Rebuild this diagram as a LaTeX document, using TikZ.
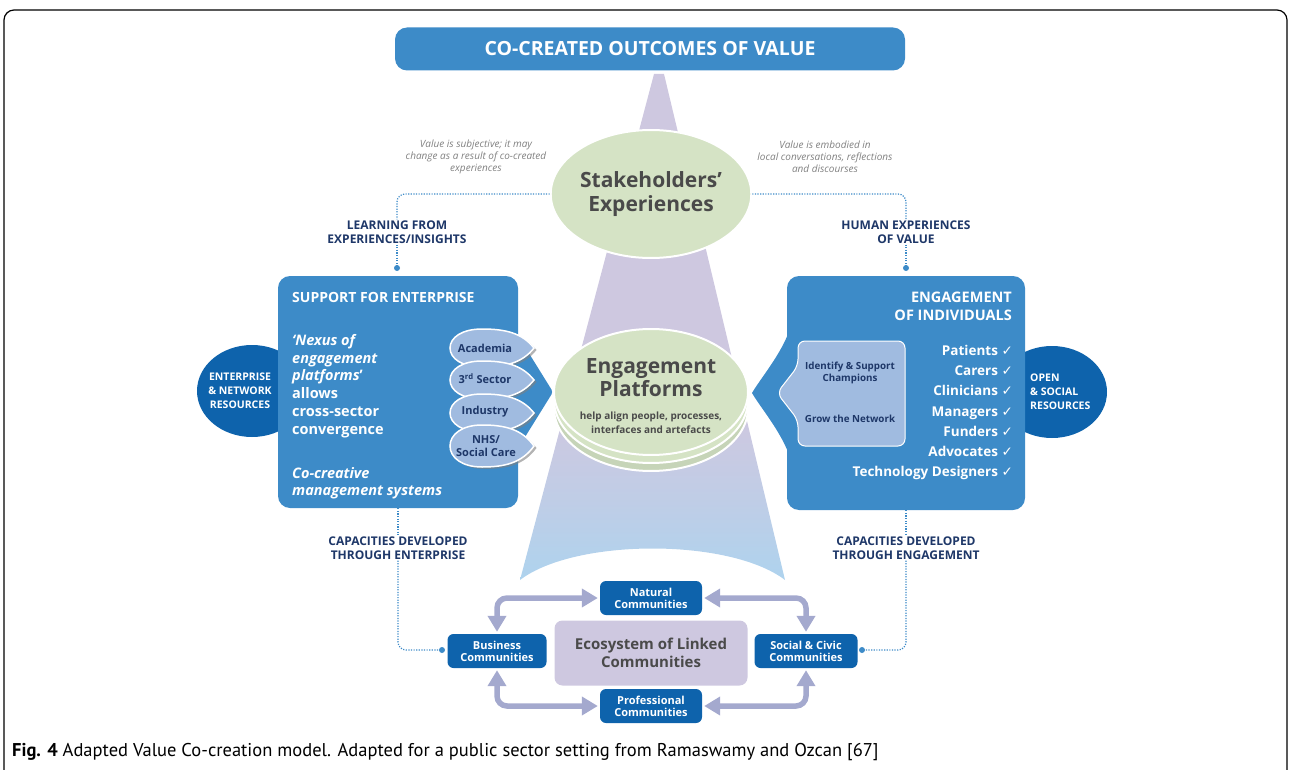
\documentclass[tikz,border=0pt]{standalone}
\usepackage{fontspec}
\setmainfont{Open Sans}
\newfontfamily\capfont{PT Sans}
\newfontfamily\tickfont{DejaVu Sans}
\usetikzlibrary{arrows.meta,shapes.geometric,shadows,positioning}

\definecolor{midblue}{HTML}{3D8BC8}
\definecolor{darkblue}{HTML}{0E63AC}
\definecolor{leafblue}{HTML}{A0BBE0}
\definecolor{navy}{HTML}{1E3768}
\definecolor{sage}{HTML}{D5E3C5}
\definecolor{sagedark}{HTML}{C6D4B8}
\definecolor{lilac}{HTML}{CEC8E0}
\definecolor{skyblue}{HTML}{AED3EE}
\definecolor{inkgray}{HTML}{4A4A4A}
\definecolor{arrowgray}{HTML}{A4A9CE}
\colorlet{conemix}{lilac!55!skyblue}

\pgfdeclareverticalshading{conefade}{100bp}{color(0bp)=(skyblue); color(25bp)=(skyblue);
  color(33bp)=(conemix); color(41bp)=(lilac); color(100bp)=(lilac)}

\newcommand{\fsz}[2]{\fontsize{#1}{#2}\selectfont}
\newcommand{\tick}{{\tickfont\mdseries ✓}}
% leaf: #1 centre y, #2 half height
\newcommand{\leafat}[2]{%
  \path[leafshape] (534,#1) .. controls (522,{#1-0.8*#2}) and (505,{#1-#2}) .. (482,{#1-#2})
    .. controls (462,{#1-#2}) and (450,{#1-0.55*#2}) .. (450,#1)
    .. controls (450,{#1+0.55*#2}) and (462,{#1+#2}) .. (482,{#1+#2})
    .. controls (505,{#1+#2}) and (522,{#1+0.8*#2}) .. (534,#1) -- cycle;}

\begin{document}
\begin{tikzpicture}[x=1pt,y=-1pt,
  mainbox/.style={fill=midblue, rounded corners=12pt, inner sep=0pt},
  resource/.style={ellipse, fill=darkblue, inner sep=0pt, minimum width=110pt, minimum height=92pt},
  reslabel/.style={text=white, font=\fsz{10.5}{14}\bfseries, inner sep=0pt},
  commbox/.style={fill=darkblue, rounded corners=6pt, minimum width=102pt, minimum height=34pt,
    text=white, font=\fsz{11}{12}\bfseries, align=center, inner sep=0pt},
  linklabel/.style={text=navy, font=\fsz{12}{14}\bfseries, align=center, inner sep=1pt},
  valuenote/.style={text=black!50, font=\fsz{10}{12}\itshape, align=center, inner sep=0pt},
  dotline/.style={midblue, line width=1.2pt, dash pattern=on 1.2pt off 1.4pt, rounded corners=8pt},
  leafshape/.style={fill=leafblue, draw=white, line width=1.5pt,
    drop shadow={shadow xshift=2.5pt, shadow yshift=-2pt, opacity=0.6}},
  leaftext/.style={text=navy, font=\fsz{11}{13}\bfseries, align=center, inner sep=0pt},
  linkarrow/.style={arrowgray, line width=5.5pt, rounded corners=10pt, shorten <=2pt, shorten >=2pt,
    {Triangle[width=18pt,length=16pt]}-{Triangle[width=18pt,length=16pt]}},
  platdisc/.style={ellipse, fill=sage, draw=white, line width=2pt, minimum width=194pt,
    minimum height=126pt, inner sep=0pt},
]
\useasboundingbox (0,0) rectangle (1290,770);
\draw[line width=1.2pt, rounded corners=10pt] (4,780) -- (4,10) -- (1287,10) -- (1287,780);

% cone behind everything
\shade[shading=conefade] (654,74) -- (664,74) -- (785,580)
  .. controls (730,538) and (575,538) .. (520,580) -- cycle;

% title
\node[mainbox, minimum width=510pt, minimum height=43pt, text=white, font=\fsz{19.5}{21}\bfseries]
  (outcomes) at (650,49) {CO-CREATED OUTCOMES OF VALUE};

% resource ellipses
\node[resource] (entres) at (252,391) {};
\node[resource] (openres) at (1052,392) {};

% support for enterprise
\node[mainbox, minimum width=240pt, minimum height=232pt] (support) at (398,392) {};
\fill[midblue, rounded corners=3pt] (512,326) -- (553,392) -- (512,458) -- cycle;
\node[reslabel, align=center] (entlabel) at (240,391) {ENTERPRISE\\\& NETWORK\\RESOURCES};
\node[anchor=west, text=white, font=\fsz{14}{16}\bfseries, inner sep=0pt] (suptitle) at (292,297) {SUPPORT FOR ENTERPRISE};
\node[anchor=north west, text=white, font=\fsz{14.5}{17.8}\bfseries, align=left, inner sep=0pt] (nexus) at (292,334)
  {\textit{‘Nexus of}\\\textit{engagement}\\\textit{platforms}’\\allows\\cross-sector\\convergence};
\node[anchor=north west, text=white, font=\fsz{14.5}{17.5}\bfseries\itshape, align=left, inner sep=0pt] (cocreative) at (292,467)
  {Co-creative\\management systems};

% sector leaves
\leafat{348}{19}
\node[leaftext] (academia) at (485,348) {Academia};
\leafat{380}{19}
\node[leaftext] (third) at (485,379) {3\textsuperscript{rd} Sector};
\leafat{413}{19}
\node[leaftext] (industry) at (485,412) {Industry};
\leafat{446}{21}
\node[leaftext] (nhs) at (486,446) {NHS/\\Social Care};

% engagement of individuals
\node[mainbox, minimum width=238pt, minimum height=234pt] (engage) at (906,393) {};
\fill[midblue] (792,322) .. controls (785,350) and (762,376) .. (752,393)
  .. controls (762,410) and (785,436) .. (792,464) -- cycle;
\node[reslabel, anchor=west, align=left] (openlabel) at (1030,392) {OPEN\\\& SOCIAL\\RESOURCES};
\node[anchor=east, text=white, font=\fsz{14.5}{18}\bfseries, align=right, inner sep=0pt] (engtitle) at (1012,306)
  {ENGAGEMENT\\OF INDIVIDUALS};
\node[anchor=north east, text=white, font=\fsz{13.5}{20.2}\bfseries, align=right, inner sep=0pt] (people) at (1013,345)
  {Patients \tick\\Carers \tick\\Clinicians \tick\\Managers \tick\\Funders \tick\\Advocates \tick\\Technology Designers \tick};
\draw[fill=leafblue, draw=white, line width=1pt, rounded corners=7pt]
  (905,341) -- (905,446) -- (798,446) -- (798,420) -- (777,393) -- (798,366) -- (798,341) -- cycle;
\node[leaftext, font=\fsz{9.8}{12}\bfseries] (champions) at (850,373) {Identify \& Support\\Champions};
\node[leaftext, font=\fsz{9.8}{12}\bfseries] (grow) at (850,419) {Grow the Network};

% stakeholders and platforms
\node[platdisc, minimum height=128pt, text=inkgray, font=\fsz{21}{24}\bfseries, align=center] (stake) at (651,194)
  {Stakeholders’\\Experiences};
\node[platdisc, fill=sagedark] (platlow) at (651,408) {};
\node[platdisc] (platmid) at (651,400) {};
\node[platdisc] (platform) at (651,392) {};
\node[text=inkgray, font=\fsz{21}{23}\bfseries, align=center, inner sep=0pt] (plattitle) at (651,378) {Engagement\\Platforms};
\node[text=inkgray, font=\fsz{10}{14}\bfseries, align=center, inner sep=0pt] (platsub) at (651,423)
  {help align people, processes,\\interfaces and artefacts};

% notes and labels
\node[valuenote] (subjective) at (476,157) {Value is subjective; it may\\change as a result of co-created\\experiences};
\node[valuenote] (embodied) at (825,157) {Value is embodied in\\local conversations, reflections\\and discourses};
\node[linklabel] (learning) at (397,232) {LEARNING FROM\\EXPERIENCES/INSIGHTS};
\node[linklabel] (human) at (906,232) {HUMAN EXPERIENCES\\OF VALUE};
\node[linklabel] (capent) at (398,548) {CAPACITIES DEVELOPED\\THROUGH ENTERPRISE};
\node[linklabel] (capeng) at (906,548) {CAPACITIES DEVELOPED\\THROUGH ENGAGEMENT};

% ecosystem
\node[fill=lilac, rounded corners=8pt, minimum width=193pt, minimum height=65pt, text=inkgray,
  font=\fsz{15}{18}\bfseries, align=center, inner sep=0pt] (ecosystem) at (651,653) {Ecosystem of Linked\\Communities};
\node[commbox] (natural) at (651,598) {Natural\\Communities};
\node[commbox] (professional) at (651,706) {Professional\\Communities};
\node[commbox, minimum width=99pt] (business) at (497,651) {Business\\Communities};
\node[commbox, minimum width=103pt] (social) at (806,651) {Social \& Civic\\Communities};

\draw[linkarrow] (natural.west) -| (business.north);
\draw[linkarrow] (natural.east) -| (social.north);
\draw[linkarrow] (professional.west) -| (business.south);
\draw[linkarrow] (professional.east) -| (social.south);

% dotted connectors
\coordinate (learndot) at (397,268);
\coordinate (humandot) at (906,268);
\coordinate (bizdot) at (442,650);
\coordinate (socdot) at (862,650);
\draw[dotline] (stake.west) -| (learning.north);
\draw[dotline] (learning.south) -- (learndot);
\draw[dotline] (stake.east) -| (human.north);
\draw[dotline] (human.south) -- (humandot);
\draw[dotline] (support.south) -- (capent.north);
\draw[dotline] (capent.south) |- (bizdot);
\draw[dotline] (engage.south) -- (capeng.north);
\draw[dotline] (capeng.south) |- (socdot);
\foreach \d in {learndot,humandot,bizdot,socdot}
  \fill[midblue] (\d) circle[radius=3pt];

% caption
\node[anchor=west, font=\capfont\fsz{18.5}{20}, inner sep=0pt] (caption) at (12,752)
  {\textbf{Fig. 4} Adapted Value Co-creation model. Adapted for a public sector setting from Ramaswamy and Ozcan [67]};
\end{tikzpicture}
\end{document}
